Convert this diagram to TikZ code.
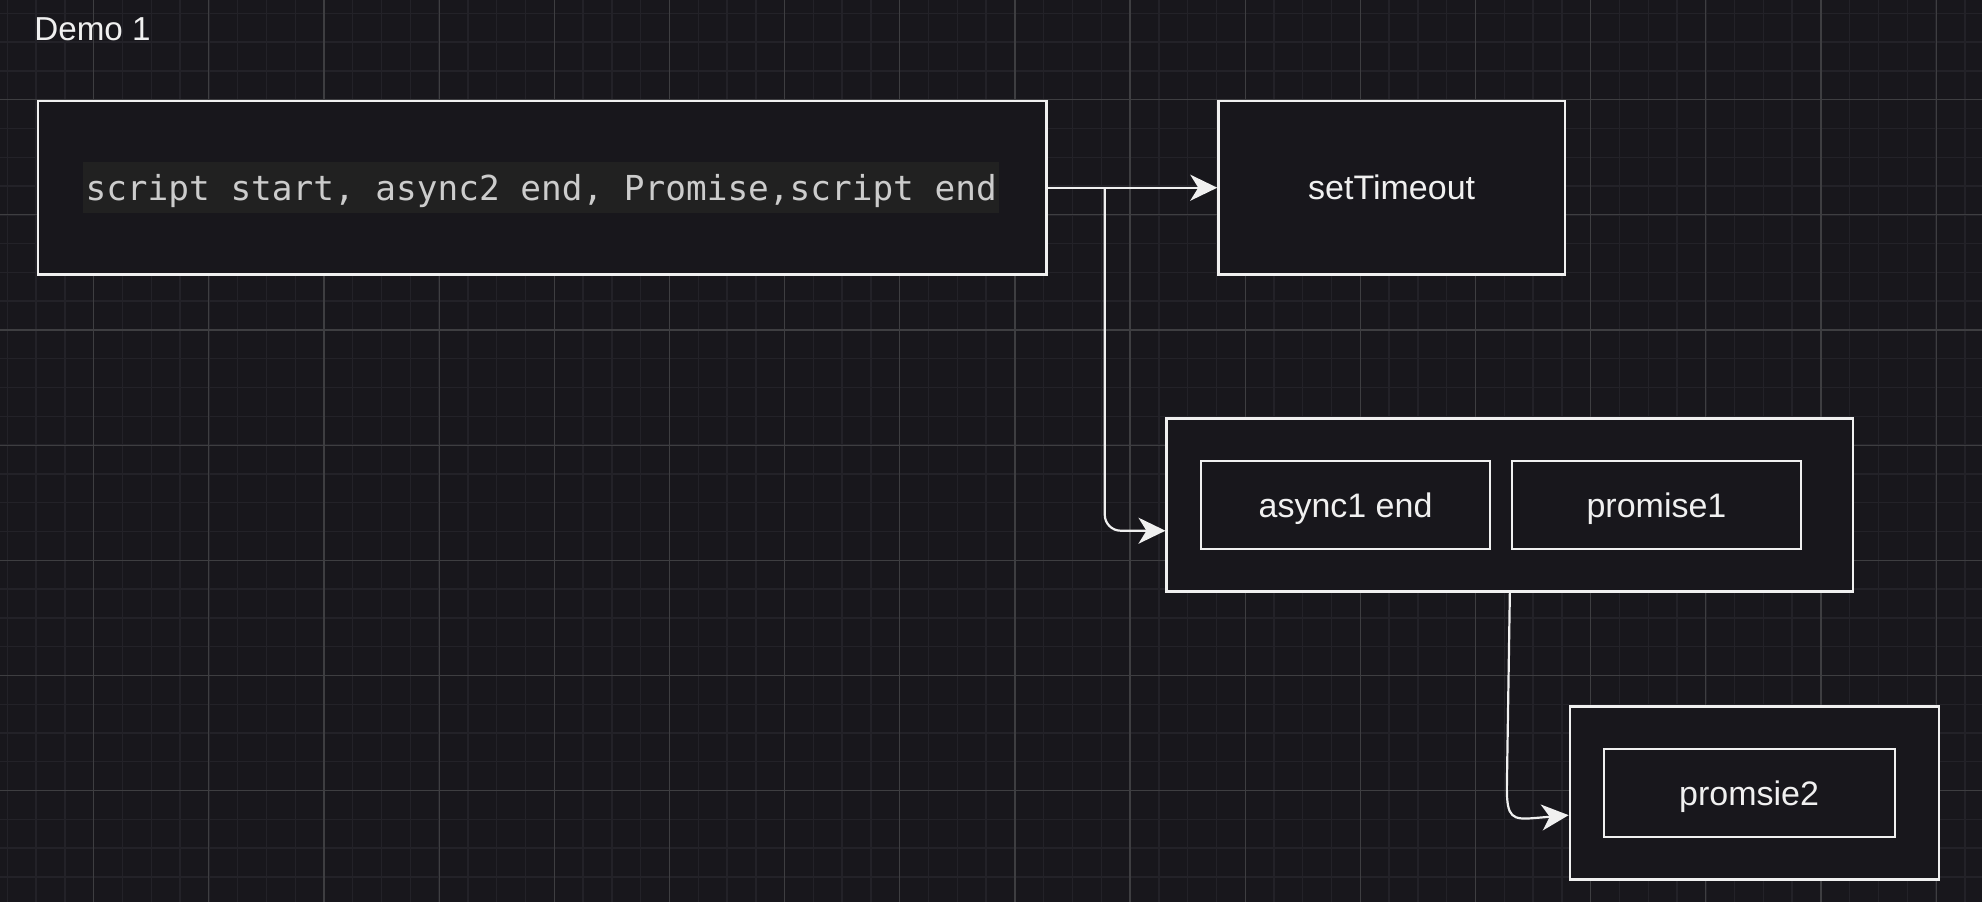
\documentclass[tikz,border=0pt]{standalone}
\usepackage{fontspec}
\setmainfont{Liberation Sans}
\newfontfamily\codefont{DejaVu Sans Mono}
\usetikzlibrary{arrows.meta,calc}
\definecolor{bg}{HTML}{18171C}
\definecolor{gmaj}{HTML}{3E3E41}
\definecolor{gmin}{HTML}{232228}
\definecolor{edgec}{HTML}{F0F0F0}
\definecolor{hl}{HTML}{212121}
\definecolor{codec}{HTML}{CCCCCC}
\tikzset{
  outerbox/.style={draw=edgec, line width=1.25pt, fill=bg, inner sep=0pt,
    text=edgec, font=\fontsize{17}{20}\selectfont, text height=12.2pt, text depth=0pt},
  innerbox/.style={draw=edgec, line width=1pt, fill=bg, inner sep=0pt,
    text=edgec, font=\fontsize{17}{20}\selectfont, text height=12.2pt, text depth=0pt,
    minimum width=144.75pt, minimum height=43.6pt},
  conn/.style={draw=edgec, line width=1.1pt, -{Stealth[length=13.5pt,width=13pt,inset=4pt]}},
}
\begin{document}
\begin{tikzpicture}[x=0.5pt,y=-0.5pt]
\fill[bg] (0,0) rectangle (1982,902);
\useasboundingbox (0,0) rectangle (1982,902);
% minor grid
\foreach \i in {0,...,68} {\draw[gmin, line width=0.7pt] ({7.34+28.7875*\i},0) -- ({7.34+28.7875*\i},902);}
\foreach \i in {0,...,30} {\draw[gmin, line width=0.7pt] (0,{13.3+28.7875*\i}) -- (1982,{13.3+28.7875*\i});}
% major grid
\foreach \i in {0,...,16} {\draw[gmaj, line width=0.6pt] ({93.7+115.15*\i},0) -- ({93.7+115.15*\i},902);}
\foreach \i in {0,...,6} {\draw[gmaj, line width=0.6pt] (0,{99.7+115.15*\i}) -- (1982,{99.7+115.15*\i});}

\node[anchor=base west, inner sep=0pt, text=edgec, font=\fontsize{16.6}{19}\selectfont] (title) at (34,40.7) {Demo 1};

\node[outerbox, minimum width=504.35pt, minimum height=86.6pt] (main) at (542.25,187.7) {};
\node[fill=hl, text=codec, inner sep=0pt, minimum width=457.85pt, minimum height=25.5pt,
  text height=12.2pt, text depth=0pt,
  font=\codefont\fontsize{17.2}{20}\selectfont] (code) at (541.2,187.8) {script start, async2 end, Promise,script end};

\node[outerbox, minimum width=173.15pt, minimum height=86.6pt] (sett) at (1391.65,187.7) {setTimeout};

\node[outerbox, minimum width=343.15pt, minimum height=86.6pt] (box2) at (1509.85,505) {};
\node[innerbox] (async1) at (1345.55,505) {async1 end};
\node[innerbox] (prom1) at (1656.45,505) {promise1};

\node[outerbox, minimum width=184.55pt, minimum height=86.55pt] (box3) at (1754.45,793.15) {};
\node[innerbox, minimum width=145.4pt, minimum height=43.7pt] (prom2) at (1749.1,793) {promsie2};

\coordinate (split) at ($(main.east)+(56.9,0)$);
\draw[conn] (main.east) -- (sett.west);
\draw[conn, rounded corners=8pt] (split) |- ([yshift=-12.85pt]box2.west);
\draw[conn] (box2.south) -- ++(-3,195) .. controls +(0,30) and (1512,820) .. (1535,818) -- ([yshift=-11pt]box3.west);
\end{tikzpicture}
\end{document}
